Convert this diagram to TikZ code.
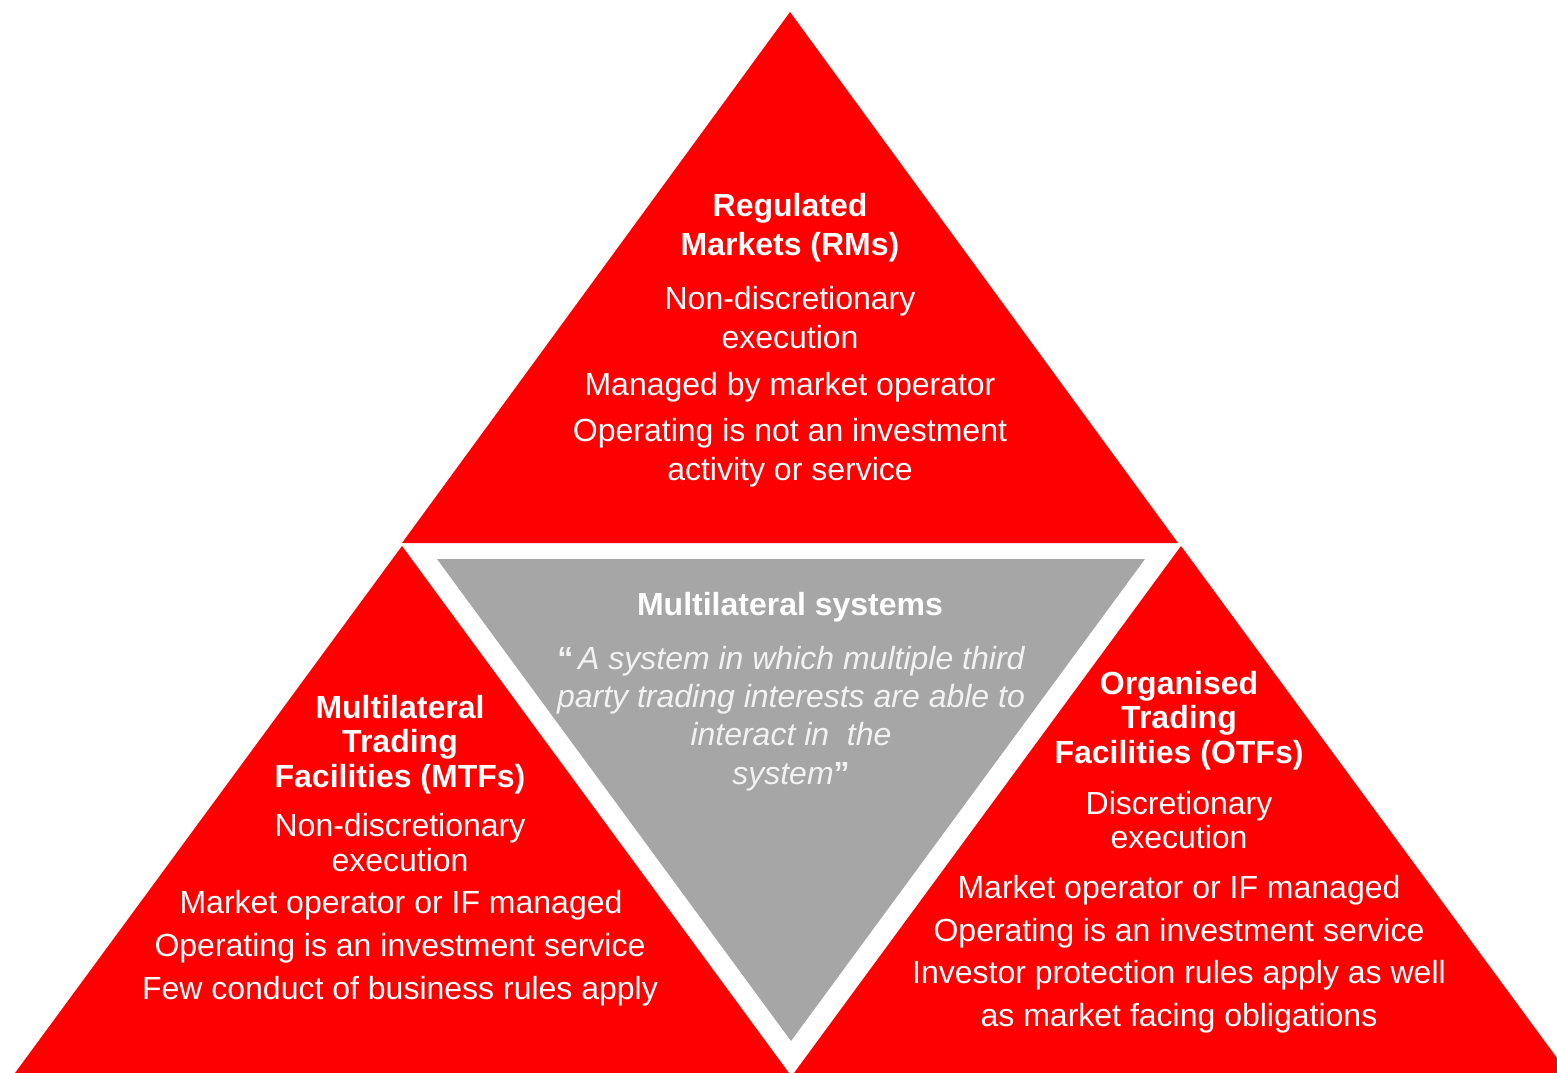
\documentclass[tikz,border=0pt]{standalone}
\usepackage{fontspec}
\setmainfont{Liberation Sans}
\definecolor{rd}{HTML}{FF0000}
\definecolor{gr}{HTML}{A6A6A6}
\definecolor{qt}{HTML}{F2F2F2}
\begin{document}
\begin{tikzpicture}[x=0.75pt,y=-0.75pt,
  txt/.style={anchor=base,inner sep=0pt,text=white,font=\fontsize{24}{29}\selectfont},
  ttl/.style={anchor=base,inner sep=0pt,text=white,font=\fontsize{24}{29}\selectfont\bfseries},
  qte/.style={anchor=base,inner sep=0pt,text=qt,font=\fontsize{24}{29}\selectfont\itshape}]
\useasboundingbox (0,0) rectangle (1557,1073);
\begin{scope}
\clip (0,0) rectangle (1557,1073);
% triangles
\fill[rd] (790,12) -- (402,543) -- (1178,543) -- cycle;
\fill[rd] (402,546) -- (15,1073) -- (789,1073) -- cycle;
\fill[rd] (1181,546) -- (794,1073) -- (1568,1073) -- cycle;
\fill[gr] (437,559) -- (1145,559) -- (791,1041) -- cycle;
\end{scope}
% top: Regulated Markets
\node[ttl] (rm1) at (790,217) {Regulated};
\node[ttl] (rm2) at (790,256) {Markets (RMs)};
\node[txt] (rm3) at (790,310) {Non-discretionary};
\node[txt] (rm4) at (790,349) {execution};
\node[txt] (rm5) at (790,395) {Managed by market operator};
\node[txt] (rm6) at (790,441) {Operating is not an investment};
\node[txt] (rm7) at (790,480) {activity or service};
% bottom left: MTFs
\node[ttl] (mt1) at (400,718) {Multilateral};
\node[ttl] (mt2) at (400,752) {Trading};
\node[ttl] (mt3) at (400,787) {Facilities (MTFs)};
\node[txt] (mt4) at (400,836) {Non-discretionary};
\node[txt] (mt5) at (400,871) {execution};
\node[txt] (mt6) at (401,913) {Market operator or IF managed};
\node[txt] (mt7) at (400,956) {Operating is an investment service};
\node[txt] (mt8) at (400,999) {Few conduct of business rules apply};
% bottom right: OTFs
\node[ttl] (ot1) at (1179,694) {Organised};
\node[ttl] (ot2) at (1179,728) {Trading};
\node[ttl] (ot3) at (1179,763) {Facilities (OTFs)};
\node[txt] (ot4) at (1179,814) {Discretionary};
\node[txt] (ot5) at (1179,848) {execution};
\node[txt] (ot6) at (1179,898) {Market operator or IF managed};
\node[txt] (ot7) at (1179,941) {Operating is an investment service};
\node[txt] (ot8) at (1179,983) {Investor protection rules apply as well};
\node[txt] (ot9) at (1179,1026) {as market facing obligations};
% centre: multilateral systems
\node[ttl] (ms1) at (790,615) {Multilateral systems};
\node[qte] (ms2) at (791,669) {{\upshape\bfseries “}\hspace{3.5pt}A system in which multiple third};
\node[qte] (ms3) at (791,707) {party trading interests are able to};
\node[qte] (ms4) at (791,745) {interact in\ \ the};
\node[qte] (ms5) at (791,784) {system{\upshape\bfseries ”}};
\end{tikzpicture}
\end{document}
